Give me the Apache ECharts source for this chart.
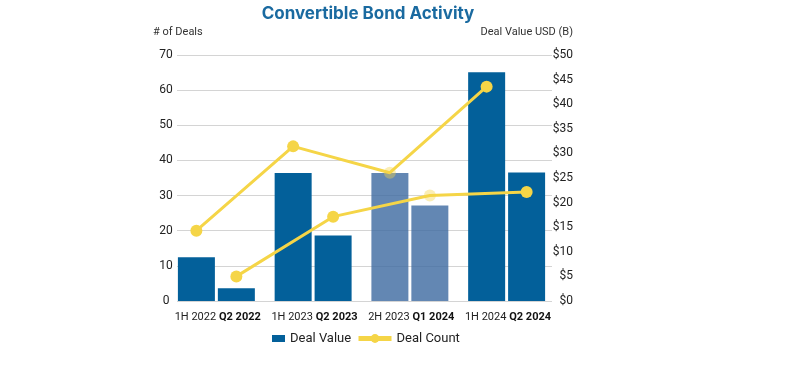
<!DOCTYPE html>
<html>
<head>
<meta charset="utf-8">
<script src="https://cdn.jsdelivr.net/npm/echarts@6/dist/echarts.min.js"></script>
<style>html,body{margin:0;padding:0;background:#fff}#c{width:800px;height:380px}</style>
</head>
<body>
<div id="c"></div>
<script>
// Data
const groups = ['G1', 'G2', 'G3', 'G4'];
const halfLabels = ['1H 2022', '1H 2023', '2H 2023', '1H 2024'];
const quarterLabels = ['Q2 2022', 'Q2 2023', 'Q1 2024', 'Q2 2024'];
const halfValue = [8.9, 26.0, 26.0, 46.5];      // Deal Value USD (B), first bar of each pair
const quarterValue = [2.6, 13.3, 19.4, 26.1];   // Deal Value USD (B), second bar of each pair
const halfCount = [20, 44, 36.5, 61];           // # of Deals
const quarterCount = [7, 24, 30, 31];           // # of Deals
const fadedIndex = 2;                            // 2H 2023 / Q1 2024 shown faded
const leftTicks = [0, 70, 10];
const rightTicks = [0, 50, 5];

const BLUE = '#03609a';
const BLUE_LIGHT = 'rgba(60,105,160,0.8)';
const YELLOW = '#f5d547';
const FONT = 'Roboto';

function barData(vals) {
  return vals.map((v, i) => i === fadedIndex ? { value: v, itemStyle: { color: BLUE_LIGHT } } : v);
}
function lineData(vals) {
  return vals.map((v, i) => i === fadedIndex ? { value: v, itemStyle: { opacity: 0.4 } } : v);
}

const chart = echarts.init(document.getElementById('c'));
const gTop = 55, gBottom = 79;
chart.setOption({
  animation: false,
  textStyle: { fontFamily: FONT },
  title: {
    text: 'Convertible Bond Activity',
    left: 363, top: 0, textAlign: 'center',
    textStyle: { fontFamily: 'Inter', fontSize: 17, fontWeight: 'bold', color: '#1a6aa0' }
  },
  graphic: [
    { type: 'text', left: 153, top: 27, style: { text: '# of Deals', font: '11px Roboto', fill: '#333' } },
    { type: 'text', right: 800 - 573, top: 27, style: { text: 'Deal Value USD (B)', font: '11px Roboto', fill: '#333' } }
  ],
  legend: [
    { left: 267, top: 327, itemWidth: 13, itemHeight: 7,
      textStyle: { fontFamily: FONT, fontSize: 13, color: '#222' },
      data: [{ name: 'Deal Value', icon: 'rect', itemStyle: { color: BLUE } }] },
    { left: 351, top: 327, itemWidth: 33, itemHeight: 11,
      textStyle: { fontFamily: FONT, fontSize: 13, color: '#222' },
      lineStyle: { width: 5 },
      data: [{ name: 'Deal Count' }] }
  ],
  grid: [
    { left: 177, right: 800 - 552, top: gTop, bottom: gBottom },
    { left: 168, width: 387, top: gTop, bottom: gBottom },
    { left: 148, width: 387, top: gTop, bottom: gBottom },
    { left: 188, width: 387, top: gTop, bottom: gBottom }
  ],
  xAxis: [
    { gridIndex: 0, type: 'category', data: groups, show: false },
    { gridIndex: 1, type: 'category', data: groups, show: false },
    { gridIndex: 2, type: 'category', data: halfLabels,
      axisLine: { show: false }, axisTick: { show: false },
      axisLabel: { interval: 0, margin: 11, fontSize: 11, color: '#222', fontFamily: FONT,
        padding: [0, 2, 0, 0] } },
    { gridIndex: 3, type: 'category', data: quarterLabels,
      axisLine: { show: false }, axisTick: { show: false },
      axisLabel: { interval: 0, margin: 11, fontSize: 11, color: '#111', fontWeight: 'bold', fontFamily: FONT,
        padding: [0, 0, 0, 7] } }
  ],
  yAxis: [
    { gridIndex: 0, type: 'value', position: 'left', min: leftTicks[0], max: leftTicks[1], interval: leftTicks[2],
      axisLine: { show: false }, axisTick: { show: false },
      splitLine: { lineStyle: { color: '#d4d4d4', width: 1 } },
      axisLabel: { align: 'center', margin: 11, fontSize: 12, color: '#222', fontFamily: FONT } },
    { gridIndex: 0, type: 'value', position: 'right', min: rightTicks[0], max: rightTicks[1], interval: rightTicks[2],
      axisLine: { show: false }, axisTick: { show: false }, splitLine: { show: false },
      axisLabel: { align: 'right', margin: 21, fontSize: 12, color: '#222', fontFamily: FONT, formatter: v => '$' + v } },
    { gridIndex: 1, type: 'value', min: rightTicks[0], max: rightTicks[1], show: false, splitLine: { show: false } },
    { gridIndex: 2, type: 'value', min: leftTicks[0], max: leftTicks[1], show: false, splitLine: { show: false } },
    { gridIndex: 3, type: 'value', min: leftTicks[0], max: leftTicks[1], show: false, splitLine: { show: false } }
  ],
  series: [
    { name: 'Deal Value', type: 'bar', xAxisIndex: 1, yAxisIndex: 2, data: barData(halfValue),
      barWidth: 37, barGap: '8%', itemStyle: { color: BLUE }, z: 2 },
    { name: 'Deal Value', type: 'bar', xAxisIndex: 1, yAxisIndex: 2, data: barData(quarterValue),
      barWidth: 37, barGap: '8%', itemStyle: { color: BLUE }, z: 2 },
    { name: 'Deal Count', type: 'line', xAxisIndex: 2, yAxisIndex: 3, data: lineData(halfCount),
      symbol: 'circle', symbolSize: 12, lineStyle: { color: YELLOW, width: 3 }, itemStyle: { color: YELLOW }, z: 3 },
    { name: 'Deal Count', type: 'line', xAxisIndex: 3, yAxisIndex: 4, data: lineData(quarterCount),
      symbol: 'circle', symbolSize: 12, lineStyle: { color: YELLOW, width: 3 }, itemStyle: { color: YELLOW }, z: 3 }
  ]
});
</script>
</body>
</html>
